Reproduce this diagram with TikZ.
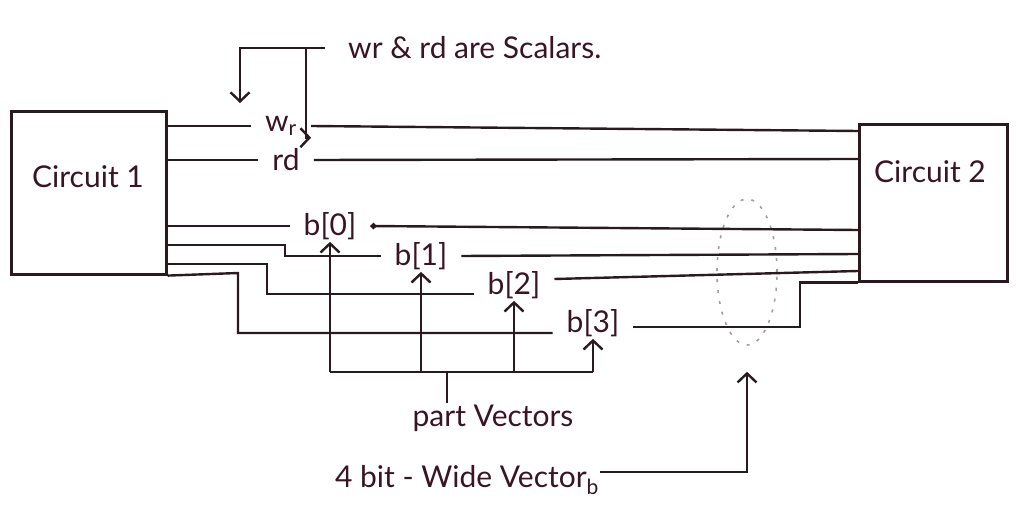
\documentclass[tikz,border=0pt]{standalone}
\usepackage{fontspec}
\setmainfont{Lato}
\usetikzlibrary{arrows.meta,shapes.geometric}
\definecolor{ink}{HTML}{2A1A1E}
\definecolor{pen}{HTML}{3A1424}
\begin{document}
\begin{tikzpicture}[x=1pt,y=-1pt,
  every node/.style={font=\fontsize{30}{34}\selectfont, text=pen, inner sep=1pt},
  wire/.style={draw=ink, line width=2.4pt},
  up/.style={-{Straight Barb[length=9pt,width=19pt,line width=2.4pt]}},
  circ/.style={draw=ink, line width=2.6pt, anchor=north west, minimum width=#1},
  sig/.style={inner xsep=14pt, inner ysep=2pt}]
\useasboundingbox (0,0) rectangle (1016,518);
\node[circ=155pt, minimum height=163pt] (c1) at (10,110) {};
\node (c1t) at (88,177) {Circuit 1};
\node[circ=148pt, minimum height=157pt] (c2) at (858,123) {};
\node (c2t) at (930,172) {Circuit 2};
\node[sig] (wr) at (281,126) {w\textsubscript{r}};
\node[sig] (rd) at (286,160) {rd};
\node[sig] (b0) at (330,226) {b[0]};
\node[sig] (b1) at (421,256) {b[1]};
\node[sig] (b2) at (514,285) {b[2]};
\node[sig] (b3) at (593,323) {b[3]};
\node[anchor=west] (sc) at (347,48) {wr \& rd are Scalars.};
\node (pv) at (493,418) {part Vectors};
\node (vb) at (467,480) {4 bit - Wide Vector\textsubscript{b}};
\node[draw=gray!75, dash pattern=on 3pt off 8pt, line width=1.6pt, ellipse, minimum width=60pt, minimum height=146pt] (grp) at (747,272) {};
\coordinate (bar) at (0,372);
\coordinate (pvtap) at (447,372);
\coordinate (scdrop) at (240,103);
\coordinate (sctap) at (306,48);
\draw[wire] (c1.east |- wr) -- (wr.west);
\draw[wire] (wr.east) -- (c2.west |- 0,131);
\draw[wire] (c1.east |- rd) -- (rd.west);
\draw[wire] (rd.east) -- (c2.west |- 0,159);
\draw[wire] (c1.east |- b0) -- (b0.west);
\draw[wire, {Circle[length=6pt]}-] (b0.east) -- (c2.west |- 0,230);
\draw[wire] (c1.east |- 0,245) -- (285,245) |- (b1.west);
\draw[wire] (b1.east) -- (c2.west |- 0,254);
\draw[wire] (c1.east |- 0,264) -- (267,264) |- (b2.west |- 0,294);
\draw[wire] (b2.east |- 0,279) -- (c2.west |- 0,271);
\draw[wire] (c1.south east) -- (238,273) |- (b3.west |- 0,333);
\draw[wire] (b3.east |- 0,327) -- (800,327) |- (c2.south west);
\draw[wire] (b0.south |- bar) -- (b3.south |- bar);
\foreach \b in {b0,b1,b2,b3}
  \draw[wire, up] (\b.south |- bar) -- (\b.south);
\draw[wire] (pvtap) -- (pvtap |- pv.north);
\draw[wire, up] (vb.east |- 0,472) -| ([yshift=-26pt]grp.south);
\draw[wire, up] ([xshift=-22pt]sc.west) -| (scdrop);
\draw[wire, up] (sctap) |- (wr.south east);
\end{tikzpicture}
\end{document}
